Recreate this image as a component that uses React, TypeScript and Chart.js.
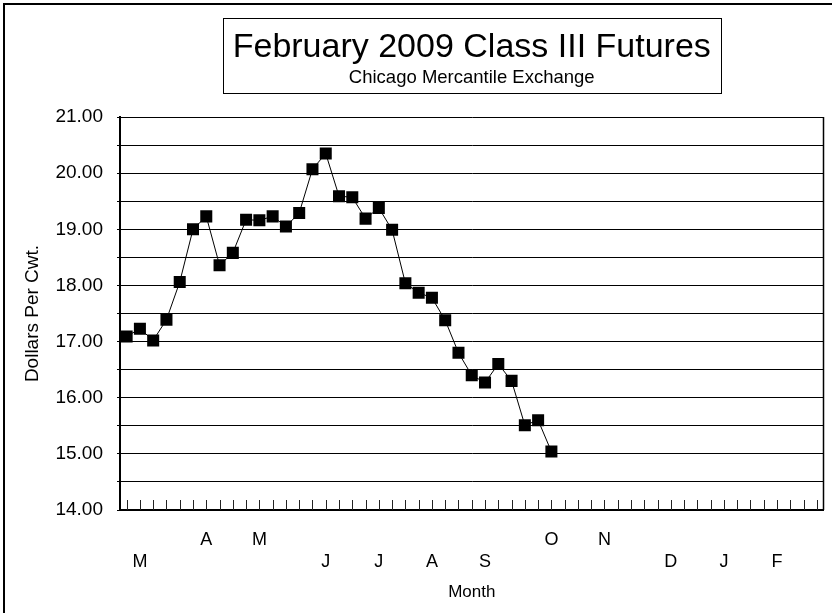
import React, { useEffect, useRef } from 'react';
import { Chart, registerables } from 'chart.js';

Chart.register(...registerables);

// ---- data ----
const WEEK_COUNT = 53;
const monthNames = ['M', 'A', 'M', 'J', 'J', 'A', 'S', 'O', 'N', 'D', 'J', 'F'];
const monthWeekIndex = [1, 6, 10, 15, 19, 23, 27, 32, 36, 41, 45, 49];
const monthRow = [2, 1, 1, 2, 2, 2, 2, 1, 1, 2, 2, 2];
const prices = [
  17.09, 17.23, 17.02, 17.39, 18.06, 19.0, 19.23, 18.36, 18.58, 19.17, 19.16,
  19.23, 19.05, 19.29, 20.07, 20.35, 19.59, 19.57, 19.19, 19.38, 18.99, 18.04,
  17.87, 17.78, 17.38, 16.8, 16.4, 16.27, 16.6, 16.3, 15.51, 15.6, 15.04,
];
const yMin = 14;
const yMax = 21;
const yStep = 0.5;
const titleText = 'February 2009 Class III Futures';
const subtitleText = 'Chicago Mercantile Exchange';
const xTitleText = 'Month';
const yTitleText = 'Dollars Per Cwt.';

const FONT = '"Liberation Sans", Arial, Helvetica, sans-serif';
const TITLE_SIZE = 34;

function buildLabels(): (string | string[])[] {
  const labels: (string | string[])[] = [];
  for (let i = 0; i < WEEK_COUNT; i++) labels.push('');
  monthWeekIndex.forEach((w, k) => {
    labels[w] = monthRow[k] === 1 ? [monthNames[k]] : ['', monthNames[k]];
  });
  return labels;
}

const decorPlugin = {
  id: 'decor',
  beforeDatasetsDraw(chart: any) {
    const { ctx, chartArea: a, scales } = chart;
    const x = scales.x;
    ctx.save();
    ctx.strokeStyle = '#222';
    ctx.lineWidth = 1;
    ctx.beginPath();
    for (let i = 0; i < WEEK_COUNT; i++) {
      const px = Math.round(x.getPixelForTick(i)) + 0.5;
      ctx.moveTo(px, a.bottom);
      ctx.lineTo(px, a.bottom - 10);
    }
    ctx.stroke();
    // right edge of plot frame
    ctx.strokeStyle = '#000';
    ctx.lineWidth = 1.5;
    ctx.beginPath();
    ctx.moveTo(a.right, a.top);
    ctx.lineTo(a.right, a.bottom);
    ctx.stroke();
    ctx.restore();
  },
  afterDraw(chart: any) {
    const { ctx, chartArea: a } = chart;
    ctx.save();
    // outer frame (top and left visible)
    ctx.strokeStyle = '#000';
    ctx.lineWidth = 2;
    ctx.beginPath();
    ctx.moveTo(4, chart.height);
    ctx.lineTo(4, 4);
    ctx.lineTo(chart.width, 4);
    ctx.stroke();
    // title box
    ctx.font = `${TITLE_SIZE}px ${FONT}`;
    const w = ctx.measureText(titleText).width;
    const cx = (a.left + a.right) / 2;
    ctx.lineWidth = 1;
    ctx.strokeRect(Math.round(cx - w / 2 - 10) + 0.5, 18.5, Math.round(w + 20), 75);
    ctx.restore();
  },
};

export default function App() {
  const canvasRef = useRef<HTMLCanvasElement | null>(null);

  useEffect(() => {
    const canvas = canvasRef.current;
    if (!canvas) return;
    const chart = new Chart(canvas, {
      type: 'line',
      data: {
        labels: buildLabels(),
        datasets: [
          {
            data: prices,
            borderColor: '#000',
            borderWidth: 1,
            backgroundColor: '#000',
            pointStyle: 'rect',
            pointRadius: 8.5,
            pointBorderWidth: 0,
            pointBackgroundColor: '#000',
            tension: 0,
          },
        ],
      },
      options: {
        responsive: false,
        animation: false,
        devicePixelRatio: 1,
        layout: { padding: { left: 0, right: 7, top: 0, bottom: 0 } },
        plugins: {
          legend: { display: false },
          tooltip: { enabled: false },
          title: {
            display: true,
            text: titleText,
            fullSize: false,
            color: '#000',
            font: { family: FONT, size: TITLE_SIZE, weight: 'normal', lineHeight: 1.2 },
            padding: { top: 27.6, bottom: 0 },
          },
          subtitle: {
            display: true,
            text: subtitleText,
            fullSize: false,
            color: '#000',
            font: { family: FONT, size: 18.5, weight: 'normal', lineHeight: 1.0 },
            padding: { top: 0, bottom: 30.1 },
          },
        },
        scales: {
          x: {
            type: 'category',
            offset: true,
            grid: {
              display: true,
              drawOnChartArea: false,
              drawTicks: true,
              tickLength: 19,
              tickColor: 'rgba(0,0,0,0)',
              color: 'rgba(0,0,0,0)',
              offset: false,
            },
            border: { display: true, color: '#000', width: 2 },
            ticks: {
              autoSkip: false,
              maxRotation: 0,
              minRotation: 0,
              padding: 0,
              color: '#000',
              font: { family: FONT, size: 18, lineHeight: '22px' as any },
            },
            title: {
              display: true,
              text: xTitleText,
              color: '#000',
              font: { family: FONT, size: 17, lineHeight: 1.2 },
              padding: { top: 0, bottom: 10.8 },
            },
            afterFit(scale: any) {
              scale.height = 103;
            },
          },
          y: {
            min: yMin,
            max: yMax,
            grid: { color: '#000', lineWidth: 1, drawTicks: true, tickLength: 3, tickColor: '#000' },
            border: { display: true, color: '#000', width: 2 },
            ticks: {
              stepSize: yStep,
              autoSkip: false,
              padding: 14,
              color: '#000',
              font: { family: FONT, size: 19 },
              callback: (v: any) => (Number.isInteger(Number(v)) ? Number(v).toFixed(2) : ''),
            },
            title: {
              display: true,
              text: yTitleText,
              color: '#000',
              font: { family: FONT, size: 19, lineHeight: 1.2 },
              padding: { top: 21.6, bottom: 0 },
            },
            afterFit(scale: any) {
              scale.width = 120;
            },
          },
        },
      },
      plugins: [decorPlugin],
    } as any);
    return () => chart.destroy();
  }, []);

  return (
    <div style={{ position: 'absolute', left: 0, top: 0, width: 832, height: 613, background: '#fff' }}>
      <canvas ref={canvasRef} width={832} height={613} style={{ display: 'block', width: 832, height: 613 }} />
    </div>
  );
}
